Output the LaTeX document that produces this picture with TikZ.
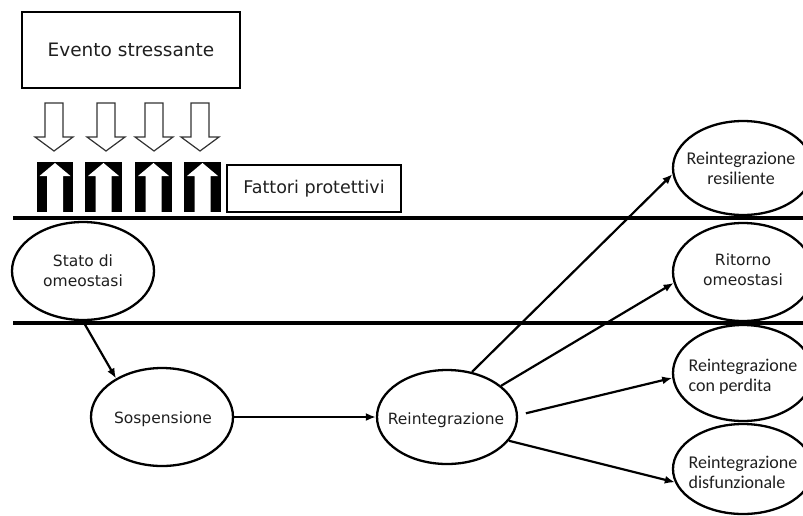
\documentclass[tikz,border=0pt]{standalone}
\usepackage{fontspec}
\setmainfont{DejaVu Sans}
\newfontfamily\carl{Carlito}
\usetikzlibrary{arrows.meta,shapes.geometric}
\begin{document}
\begin{tikzpicture}[x=1pt,y=-1pt,
  txt/.style={text=black!88},
  oval/.style={draw,ellipse,line width=2.3pt,inner sep=0pt},
  vtext/.style={txt,align=center,inner sep=0pt,font=\fontsize{15.5}{20}\selectfont},
  ctext/.style={txt,align=center,inner sep=0pt,font=\carl\fontsize{18}{20}\selectfont},
  arr/.style={line width=2.2pt,-{Latex[length=10pt,width=8pt]}},
  band/.style={line width=3.2pt},
  hollow/.style={draw=black!80,line width=1.2pt,fill=white},
  blackbox/.style={fill=black},
  whitearrow/.style={fill=white}]
\useasboundingbox (0,0) rectangle (803,515);
\clip (0,0) rectangle (803,515);
% top box
\node[draw,line width=2.3pt,minimum width=218pt,minimum height=76pt,txt,
  font=\fontsize{18.5}{22}\selectfont] (evento) at (131,50) {Evento stressante};
% hollow down arrows
\foreach \c in {54,106,154,200}{
  \draw[hollow] (\c-9,103) -- (\c+9,103) -- (\c+9,137) -- (\c+19,137) -- (\c,151)
     -- (\c-19,137) -- (\c-9,137) -- cycle;
}
% black boxes with white up arrows
\foreach \l/\r in {37/73,85/122,135/172,184/221}{
  \fill[blackbox] (\l,162) rectangle (\r,212);
  \pgfmathsetmacro{\m}{(\l+\r)/2}
  \fill[whitearrow] (\m-8,212) -- (\m-8,176) -- (\m-15.5,176) -- (\m,163)
     -- (\m+15.5,176) -- (\m+8,176) -- (\m+8,212) -- cycle;
}
\node[draw,line width=1.1pt,minimum width=174pt,minimum height=47pt,txt,
  font=\fontsize{17.5}{20}\selectfont] (fattori) at (314,188.5) {Fattori protettivi};
% bands
\coordinate (b1l) at (13,218); \coordinate (b1r) at (803,218);
\coordinate (b2l) at (13,323); \coordinate (b2r) at (803,323);
\draw[band] (b1l) -- (b1r);
\draw[band] (b2l) -- (b2r);
% ellipses
\node[oval,minimum width=142pt,minimum height=98pt] (stato) at (83,271) {};
\node[vtext] (statot) at (stato.center) {Stato di\\omeostasi};
\node[oval,minimum width=142pt,minimum height=98pt] (sosp) at (162,417) {};
\node[vtext] (sospt) at (163,419) {Sospensione};
\node[oval,minimum width=140pt,minimum height=94pt] (reint) at (447,417) {};
\node[vtext] (reintt) at (446,420) {Reintegrazione};
\node[oval,minimum width=140pt,minimum height=94pt] (res) at (743,168) {};
\node[ctext] (rest) at (741,168) {Reintegrazione\\resiliente};
\node[oval,minimum width=140pt,minimum height=98pt] (rit) at (743,272) {};
\node[vtext] (ritt) at (743,270) {Ritorno\\omeostasi};
\node[oval,minimum width=140pt,minimum height=96pt] (perd) at (743,373) {};
\node[ctext,align=left] (perdt) at (743,377) {Reintegrazione\\con perdita};
\node[oval,minimum width=140pt,minimum height=90pt] (disf) at (743,469) {};
\node[ctext,align=left] (disft) at (743,472) {Reintegrazione\\disfunzionale};
% connectors
\draw[arr,shorten <=4pt] (stato.south) -- (sosp.140);
\draw[arr] (sosp.east) -- (reint.west);
\draw[arr] (reint.61) -- (res.185);
\draw[arr] (reint.30) -- (rit.189);
\draw[arr] ([xshift=8pt]reint.3) -- (perd.184);
\draw[arr] (reint.-21) -- (disf.191);
\end{tikzpicture}
\end{document}
